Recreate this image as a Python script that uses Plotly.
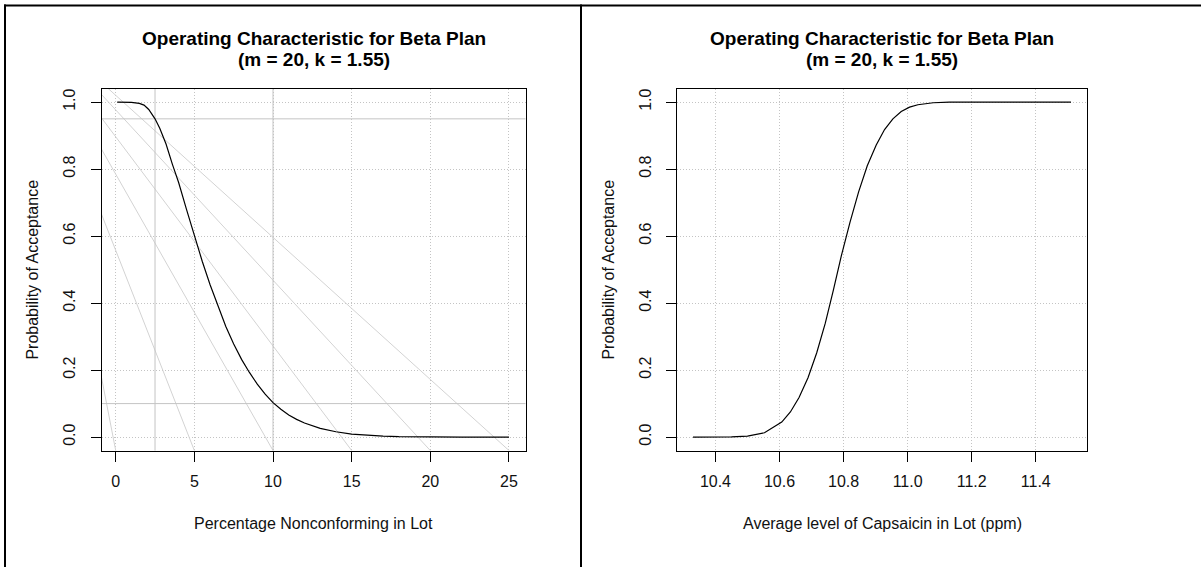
import plotly.graph_objects as go

W, H = 1201, 567

# ---------------- data ----------------
pct_nonconforming = [0.1, 0.5, 1.0, 1.5, 1.8, 2.1, 2.5, 2.8, 3.2, 3.6, 4.0, 4.5, 5.0, 5.5,
                     6.0, 6.5, 7.0, 7.5, 8.0, 8.5, 9.0, 9.5, 10.0, 10.5, 11.0, 11.5, 12.0,
                     13.0, 14.0, 15.0, 16.0, 17.0, 18.0, 19.0, 20.0, 22.0, 25.0]
pa_left = [1.000, 1.000, 0.999, 0.996, 0.991, 0.978, 0.950, 0.922, 0.875, 0.815, 0.760,
           0.680, 0.600, 0.525, 0.455, 0.390, 0.330, 0.278, 0.232, 0.193, 0.158, 0.128,
           0.103, 0.083, 0.066, 0.053, 0.042, 0.026, 0.016, 0.009, 0.005, 0.003, 0.0015,
           0.0008, 0.0004, 0.0001, 0.0]

capsaicin = [10.33, 10.40, 10.45, 10.50, 10.553, 10.607, 10.634, 10.661, 10.689, 10.716,
             10.743, 10.768, 10.793, 10.820, 10.847, 10.874, 10.902, 10.928, 10.954, 10.980,
             11.006, 11.032, 11.080, 11.13, 11.18, 11.51]
pa_right = [0.000, 0.0001, 0.0006, 0.003, 0.013, 0.045, 0.075, 0.118, 0.177, 0.251, 0.340,
            0.438, 0.541, 0.641, 0.732, 0.810, 0.872, 0.918, 0.950, 0.972, 0.985,
            0.992, 0.998, 0.9997, 1.000, 1.000]

# gray reference lines on the left panel
ref_intercepts = [-0.04, 0.5575, 0.785, 0.8964, 0.9767, 1.0203]
ref_slopes = [-0.2416, -0.1195, -0.0825, -0.06243, -0.05084, -0.04241]
ref_vlines = [2.5, 10.0]
ref_hlines = [0.95, 0.10]

xticks_left = [0, 5, 10, 15, 20, 25]
xticks_right = [10.4, 10.6, 10.8, 11.0, 11.2, 11.4]
yticks = [0.0, 0.2, 0.4, 0.6, 0.8, 1.0]

title_line1 = "Operating Characteristic for Beta Plan"
title_line2 = "(m = 20, k = 1.55)"
xlabel_left = "Percentage Nonconforming in Lot"
xlabel_right = "Average level of Capsaicin in Lot (ppm)"
ylabel = "Probability of Acceptance"

# ---------------- layout geometry (pixels) ----------------
L_X0, L_X1 = 101.7, 525.5
R_X0, R_X1 = 677.0, 1087.0
P_Y0, P_Y1 = 88.7, 450.5
XR_LEFT = [-0.89, 26.05]
XR_RIGHT = [10.28, 11.56]
YR = [-0.04, 1.04]

FONT = "Liberation Sans, Arial, sans-serif"
GRID = "#C4C4C4"
REF = "#D3D3D3"
REF_HV = "#C4C4C4"

def px_x(p):
    return p / W

def px_y(p):
    return 1 - p / H

fig = go.Figure()

# reference lines (left panel)
x_span = [XR_LEFT[0] - 2, XR_LEFT[1] + 2]
for a, b in zip(ref_intercepts, ref_slopes):
    fig.add_trace(go.Scatter(x=x_span, y=[a + b * x_span[0], a + b * x_span[1]],
                             mode="lines", line=dict(color=REF, width=1),
                             hoverinfo="skip", xaxis="x", yaxis="y"))
for v in ref_vlines:
    fig.add_trace(go.Scatter(x=[v, v], y=[YR[0] - 1, YR[1] + 1], mode="lines",
                             line=dict(color=REF_HV, width=1), hoverinfo="skip",
                             xaxis="x", yaxis="y"))
for h in ref_hlines:
    fig.add_trace(go.Scatter(x=x_span, y=[h, h], mode="lines",
                             line=dict(color=REF_HV, width=1), hoverinfo="skip",
                             xaxis="x", yaxis="y"))

# OC curves
fig.add_trace(go.Scatter(x=pct_nonconforming, y=pa_left, mode="lines",
                         line=dict(color="black", width=1.2), xaxis="x", yaxis="y"))
fig.add_trace(go.Scatter(x=capsaicin, y=pa_right, mode="lines",
                         line=dict(color="black", width=1.2), xaxis="x2", yaxis="y2"))

axis_common = dict(
    showline=True, mirror=True, linecolor="black", linewidth=1,
    ticks="outside", ticklen=10, tickwidth=1, tickcolor="black",
    showgrid=True, gridcolor=GRID, griddash="1px,2px", gridwidth=1,
    zeroline=False, tickfont=dict(family=FONT, size=16, color="#111111"),
    fixedrange=True,
)

fig.update_layout(
    width=W, height=H,
    margin=dict(l=0, r=0, t=0, b=0),
    paper_bgcolor="white", plot_bgcolor="white",
    showlegend=False,
    xaxis=dict(domain=[px_x(L_X0), px_x(L_X1)], range=XR_LEFT, tickvals=xticks_left,
               ticktext=[str(t) for t in xticks_left], anchor="y",
               ticklabelstandoff=6, **axis_common),
    yaxis=dict(domain=[px_y(P_Y1), px_y(P_Y0)], range=YR, tickvals=yticks,
               ticktext=[f"{t:.1f}" for t in yticks], tickangle=-90, anchor="x",
               ticklabelstandoff=9, **axis_common),
    xaxis2=dict(domain=[px_x(R_X0), px_x(R_X1)], range=XR_RIGHT, tickvals=xticks_right,
                ticktext=[f"{t:.1f}" for t in xticks_right], anchor="y2",
                ticklabelstandoff=6, **axis_common),
    yaxis2=dict(domain=[px_y(P_Y1), px_y(P_Y0)], range=YR, tickvals=yticks,
                ticktext=[f"{t:.1f}" for t in yticks], tickangle=-90, anchor="x2",
                ticklabelstandoff=9, **axis_common),
)

annotations = []
for (x0, x1, xlab, ytitle_x) in [(L_X0, L_X1, xlabel_left, 33), (R_X0, R_X1, xlabel_right, 609)]:
    cx = px_x((x0 + x1) / 2)
    annotations.append(dict(text=f"<b>{title_line1}</b>", x=cx, y=px_y(38), xref="paper",
                            yref="paper", showarrow=False, xanchor="center", yanchor="middle",
                            font=dict(family=FONT, size=19, color="black")))
    annotations.append(dict(text=f"<b>{title_line2}</b>", x=cx, y=px_y(59), xref="paper",
                            yref="paper", showarrow=False, xanchor="center", yanchor="middle",
                            font=dict(family=FONT, size=19, color="black")))
    annotations.append(dict(text=xlab, x=cx, y=px_y(523), xref="paper", yref="paper",
                            showarrow=False, xanchor="center", yanchor="middle",
                            font=dict(family=FONT, size=16, color="#111111")))
    annotations.append(dict(text=ylabel, x=px_x(ytitle_x), y=px_y((P_Y0 + P_Y1) / 2),
                            xref="paper", yref="paper", showarrow=False, textangle=-90,
                            xanchor="center", yanchor="middle",
                            font=dict(family=FONT, size=16, color="#111111")))
fig.update_layout(annotations=annotations)

# page borders (top, left, divider)
shapes = [
    dict(type="line", xref="paper", yref="paper", x0=px_x(4), x1=1, y0=px_y(5.5), y1=px_y(5.5),
         line=dict(color="black", width=2)),
    dict(type="line", xref="paper", yref="paper", x0=px_x(5), x1=px_x(5), y0=px_y(4.5), y1=0,
         line=dict(color="black", width=2)),
    dict(type="line", xref="paper", yref="paper", x0=px_x(581), x1=px_x(581), y0=px_y(4.5), y1=0,
         line=dict(color="black", width=2)),
]
fig.update_layout(shapes=shapes)

fig.write_html("out.html",
               config={"displayModeBar": False, "staticPlot": True},
               post_script="document.body.style.margin='0px';document.body.style.overflow='hidden';")
